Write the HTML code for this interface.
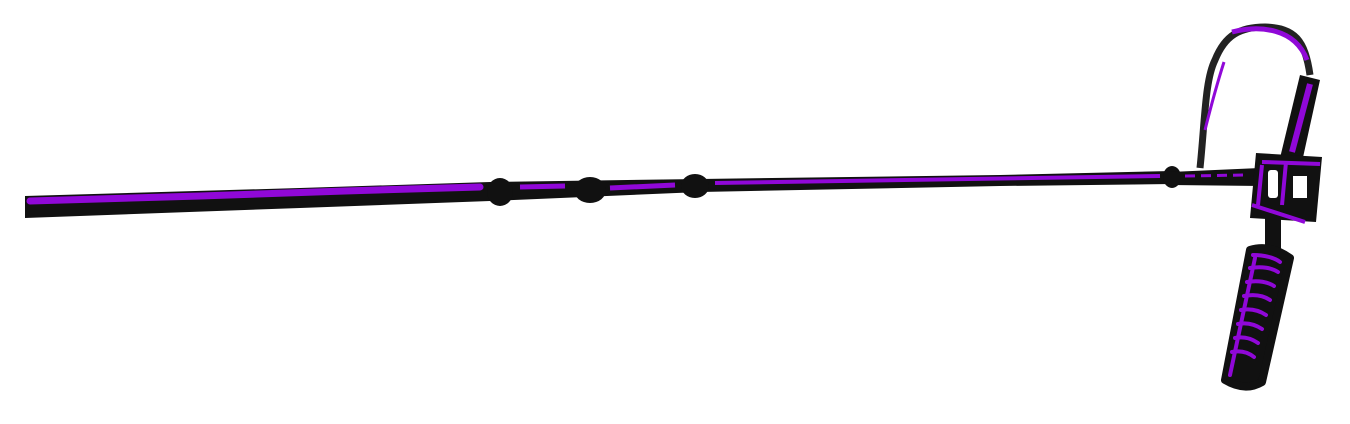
<!DOCTYPE html>
<html><head><meta charset="utf-8"><style>html,body{margin:0;padding:0;background:#fff;}svg{display:block}</style></head>
<body>
<svg width="1350" height="424" viewBox="0 0 1350 424" xmlns="http://www.w3.org/2000/svg">
<!-- pole -->
<polygon points="25,196 300,188 490,182 700,179 1000,175 1172,171 1172,184 1000,186 700,192 490,201 300,208 25,218" fill="#111"/>
<!-- joints -->
<ellipse cx="500" cy="192" rx="13" ry="14" fill="#111"/>
<ellipse cx="590" cy="190" rx="16" ry="13" fill="#111"/>
<ellipse cx="695" cy="186" rx="14" ry="12" fill="#111"/>
<ellipse cx="1172" cy="177" rx="9" ry="11" fill="#111"/>
<polygon points="1170,172 1260,168 1262,186 1170,185" fill="#111"/>
<!-- purple stripe -->
<polyline points="30,201 200,196 345,191 480,187" fill="none" stroke="#9008d8" stroke-width="7" stroke-linecap="round"/>
<line x1="520" y1="187" x2="565" y2="186" stroke="#9008d8" stroke-width="5"/>
<line x1="610" y1="188" x2="675" y2="185" stroke="#9008d8" stroke-width="5"/>
<line x1="715" y1="183" x2="1160" y2="176" stroke="#9008d8" stroke-width="4"/>
<line x1="1185" y1="176" x2="1245" y2="175" stroke="#9008d8" stroke-width="3" stroke-dasharray="10,6"/>
<!-- cable -->
<path d="M1200,168 C1205,120 1205,80 1215,60 C1225,35 1240,27 1265,27 C1295,28 1305,40 1310,75" fill="none" stroke="#222" stroke-width="7"/>
<path d="M1232,32 C1260,25 1295,28 1307,60" fill="none" stroke="#9008d8" stroke-width="5"/>
<path d="M1224,62 C1215,90 1210,110 1205,130" fill="none" stroke="#9008d8" stroke-width="3"/>
<!-- mic shaft -->
<polygon points="1300,75 1320,80 1302,162 1280,158" fill="#111"/>
<line x1="1310" y1="84" x2="1292" y2="152" stroke="#9008d8" stroke-width="6"/>
<!-- mount -->
<polygon points="1256,153 1322,157 1316,222 1250,218" fill="#111"/>
<rect x="1268" y="170" width="10" height="28" fill="#fff" rx="3"/>
<rect x="1293" y="176" width="14" height="22" fill="#fff"/>
<path d="M1262,162 L1320,164 M1262,165 L1258,205 M1286,162 L1282,205 M1252,205 L1305,222" stroke="#9008d8" stroke-width="4" fill="none"/>
<!-- stem -->
<rect x="1265" y="218" width="16" height="34" fill="#111"/>
<!-- handle -->
<path d="M1250,250 Q1270,244 1290,258 L1262,382 Q1245,392 1225,380 Z" fill="#111" stroke="#111" stroke-width="8" stroke-linejoin="round"/>
<g stroke="#9008d8" stroke-width="4" fill="none" stroke-linecap="round">
<path d="M1253,255 C1265,255 1275,258 1280,262"/>
<path d="M1250,268 C1262,266 1272,268 1278,272"/>
<path d="M1247,282 C1258,280 1268,282 1274,286"/>
<path d="M1244,296 C1255,294 1264,296 1270,300"/>
<path d="M1241,310 C1252,308 1260,311 1266,315"/>
<path d="M1238,324 C1248,322 1256,325 1262,329"/>
<path d="M1235,338 C1245,336 1252,339 1258,343"/>
<path d="M1232,352 C1242,350 1249,353 1254,357"/>
<path d="M1255,258 L1230,375"/>
</g>
</svg>
</body></html>
